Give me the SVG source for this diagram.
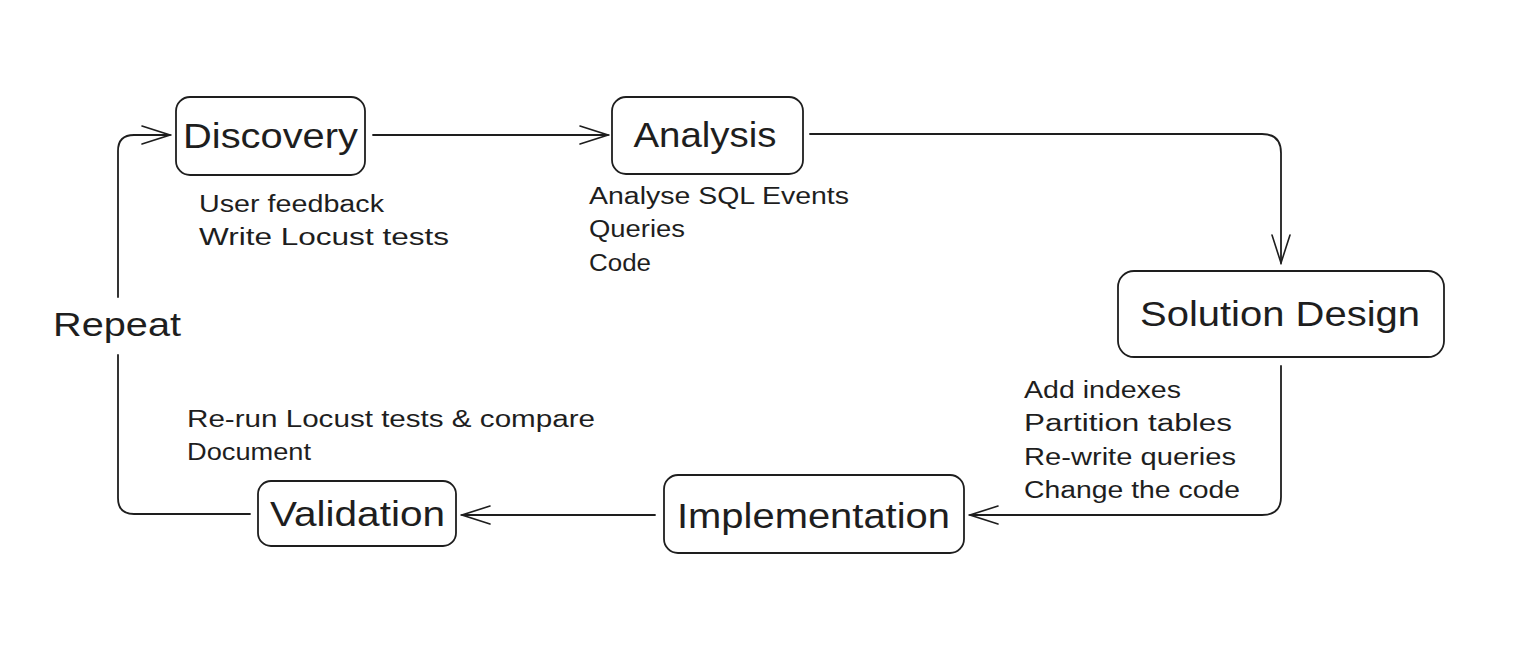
<svg xmlns="http://www.w3.org/2000/svg" width="1531" height="658" viewBox="0 0 1531 658">
<style>
.box{fill:#fff;stroke:#1e1e1e;stroke-width:1.8}
.t{font-family:"Liberation Sans",Arial,sans-serif;fill:#1e1e1e}
.title{font-size:35px}
.note{font-size:23px}
.c{fill:none;stroke:#1e1e1e;stroke-width:1.8;stroke-linecap:round;stroke-linejoin:round}
</style>
<defs>
<marker id="ah" viewBox="0 0 32 24" refX="30" refY="12" markerWidth="32" markerHeight="24" markerUnits="userSpaceOnUse" orient="auto">
<path d="M2,3 L30,12 L2,21" fill="none" stroke="#1e1e1e" stroke-width="1.6" stroke-linecap="round"/>
</marker>
</defs>
<rect width="1531" height="658" fill="#fff"/>
<g id="connectors">
<path class="c" d="M373,135 L608,135" marker-end="url(#ah)"/>
<path class="c" d="M810,134 L1262,134 Q1281,134 1281,153 L1281,263" marker-end="url(#ah)"/>
<path class="c" d="M1281,366 L1281,497 Q1281,515 1262,515 L970,515" marker-end="url(#ah)"/>
<path class="c" d="M655,515 L462,515" marker-end="url(#ah)"/>
<path class="c" d="M250,514 L134,514 Q118,514 118,498 L118,355"/>
<path class="c" d="M118,297 L118,151 Q118,135 134,135 L170,135" marker-end="url(#ah)"/>
<text class="t" x="117" y="336" font-size="34" text-anchor="middle" textLength="128" lengthAdjust="spacingAndGlyphs">Repeat</text>
</g>
<g id="discovery">
<rect class="box" x="176" y="97" width="189" height="78" rx="14"/>
<text class="t title" x="270.5" y="148" text-anchor="middle" textLength="175" lengthAdjust="spacingAndGlyphs">Discovery</text>
</g>
<g id="discovery-notes">
<text class="t note" x="199" y="212" textLength="185" lengthAdjust="spacingAndGlyphs">User feedback</text>
<text class="t note" x="199" y="245" textLength="250" lengthAdjust="spacingAndGlyphs">Write Locust tests</text>
</g>
<g id="analysis">
<rect class="box" x="612" y="97" width="191" height="77" rx="14"/>
<text class="t title" x="705" y="147" text-anchor="middle" textLength="143" lengthAdjust="spacingAndGlyphs">Analysis</text>
</g>
<g id="analysis-notes">
<text class="t note" x="589" y="204" textLength="260" lengthAdjust="spacingAndGlyphs">Analyse SQL Events</text>
<text class="t note" x="589" y="237" textLength="96" lengthAdjust="spacingAndGlyphs">Queries</text>
<text class="t note" x="589" y="271" textLength="62" lengthAdjust="spacingAndGlyphs">Code</text>
</g>
<g id="solution-design">
<rect class="box" x="1118" y="271" width="326" height="86" rx="16"/>
<text class="t title" x="1280" y="326" text-anchor="middle" textLength="280" lengthAdjust="spacingAndGlyphs">Solution Design</text>
</g>
<g id="solution-notes">
<text class="t note" x="1024" y="398" textLength="157" lengthAdjust="spacingAndGlyphs">Add indexes</text>
<text class="t note" x="1024" y="431" textLength="208" lengthAdjust="spacingAndGlyphs">Partition tables</text>
<text class="t note" x="1024" y="465" textLength="212" lengthAdjust="spacingAndGlyphs">Re-write queries</text>
<text class="t note" x="1024" y="498" textLength="216" lengthAdjust="spacingAndGlyphs">Change the code</text>
</g>
<g id="implementation">
<rect class="box" x="664" y="475" width="300" height="78" rx="14"/>
<text class="t title" x="813.5" y="528" text-anchor="middle" textLength="273" lengthAdjust="spacingAndGlyphs">Implementation</text>
</g>
<g id="validation">
<rect class="box" x="258" y="481" width="198" height="65" rx="13"/>
<text class="t title" x="357.5" y="526" text-anchor="middle" textLength="175" lengthAdjust="spacingAndGlyphs">Validation</text>
</g>
<g id="validation-notes">
<text class="t note" x="187" y="427" textLength="408" lengthAdjust="spacingAndGlyphs">Re-run Locust tests &amp; compare</text>
<text class="t note" x="187" y="460" textLength="124" lengthAdjust="spacingAndGlyphs">Document</text>
</g>
</svg>
